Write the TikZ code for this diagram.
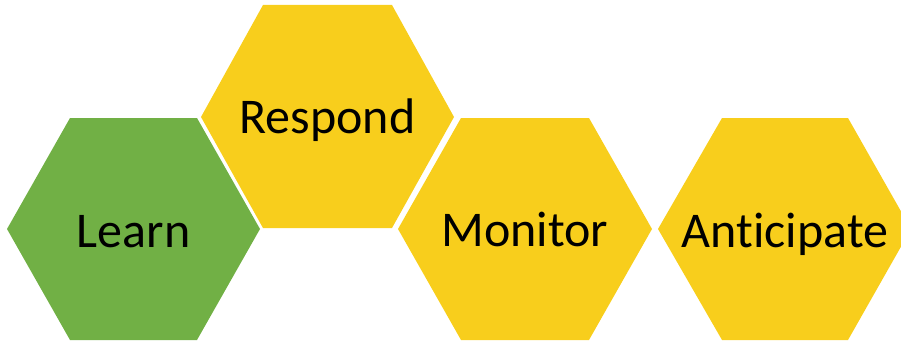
\documentclass[tikz,border=0pt]{standalone}
\usepackage{fontspec}
\setmainfont[Ligatures={NoCommon}]{Carlito}
\definecolor{leafgreen}{HTML}{71B045}
\definecolor{honey}{HTML}{F8CE1C}
\begin{document}
\begin{tikzpicture}[x=1pt,y=-1pt,
  label/.style={font=\fontsize{50}{58}\selectfont, text=black, inner sep=0pt, anchor=base}]
\useasboundingbox (0,0) rectangle (901,345);
\clip (0,0) rectangle (901,345);
% hexagonal cells
\fill[leafgreen] (7,229) -- (70,118) -- (197,118) -- (260,229) -- (197,340) -- (70,340) -- cycle;
\fill[honey] (201,117) -- (263,5) -- (392,5) -- (454,117) -- (392,228) -- (263,228) -- cycle;
\fill[honey] (398,229) -- (461,118) -- (589,118) -- (652,229) -- (589,340) -- (461,340) -- cycle;
\fill[honey] (658,229) -- (722,118) -- (848,118) -- (911,229) -- (848,340) -- (722,340) -- cycle;
% cell labels, placed on their baselines
\node[label] (learn) at (133.5,247) {Learn};
\node[label] (respond) at (327.5,133) {Respond};
\node[label] (monitor) at (525,246.5) {Monitor};
\node[label] (anticipate) at (785,247) {Anticipate};
\end{tikzpicture}
\end{document}
